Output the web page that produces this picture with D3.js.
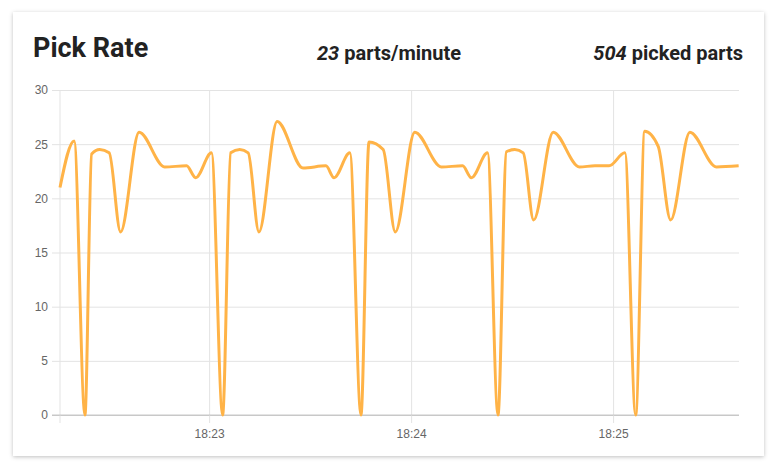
<!DOCTYPE html>
<html><head><meta charset="utf-8">
<script src="https://cdn.jsdelivr.net/npm/d3@7"></script>
<style>
html,body{margin:0;padding:0;background:#fff;}
#card{position:absolute;left:13px;top:12px;width:751px;height:444px;background:#fff;box-shadow:0 1px 4px rgba(0,0,0,0.25);}
svg{position:absolute;left:0;top:0;}
</style></head><body>
<div id="card"></div>
<svg id="chart" width="775" height="468"></svg>
<script>
// seconds after 18:22:00
const times = [15.7,19.9,23.1,25.1,27.5,30.3,33.7,39.2,46.8,53.3,56.0,60.7,64.0,66.4,69.1,71.6,74.8,80.2,87.9,94.7,97.1,101.8,105.1,107.5,111.7,115.3,121.1,129.0,135.3,137.9,142.7,145.8,148.3,150.8,153.3,156.4,162.2,170.0,174.6,178.8,183.5,186.7,189.4,193.4,197.1,202.8,210.7,217.3];
const rates = [21.0,25.3,0,24.1,24.5,24.2,16.9,26.1,22.9,23.0,21.9,24.2,0,24.2,24.5,24.2,16.9,27.1,22.8,23.0,21.9,24.2,0,25.2,24.5,16.9,26.1,22.9,23.0,21.9,24.2,0,24.3,24.5,24.2,18.0,26.1,22.9,23.0,23.0,24.2,0,26.2,24.8,18.0,26.1,22.9,23.0];
const yTicks = [0,5,10,15,20,25,30];
const xTickLabels = ["18:23","18:24","18:25"];
const title = "Pick Rate";
const rateValue = "23", rateUnit = " parts/minute";
const countValue = "504", countUnit = " picked parts";

const base = new Date(2020,0,1,18,22,0);
const toDate = s => new Date(base.getTime() + s*1000);
const data = times.map((t,i)=>({t:toDate(t), v:rates[i]}));

const svg = d3.select("#chart");
const L=60, R=739, T=90, B=415;
const x = d3.scaleTime().domain([toDate(15.7), toDate(217.4)]).range([L,R]);
const y = d3.scaleLinear().domain([0,30]).range([B,T]);
const font = "Roboto,'Liberation Sans',sans-serif";

// title / header
svg.append("text").attr("x",33).attr("y",57).attr("font-family",font).attr("font-weight","bold").attr("font-size",27).attr("fill","#222").text(title);
const h1 = svg.append("text").attr("x",389).attr("y",60).attr("text-anchor","middle").attr("font-family",font).attr("font-weight","bold").attr("font-size",20).attr("fill","#222");
h1.append("tspan").attr("font-style","italic").text(rateValue);
h1.append("tspan").text(rateUnit);
const h2 = svg.append("text").attr("x",743).attr("y",60).attr("text-anchor","end").attr("font-family",font).attr("font-weight","bold").attr("font-size",20).attr("fill","#222");
h2.append("tspan").attr("font-style","italic").text(countValue);
h2.append("tspan").text(countUnit);

// y grid
const yAxis = d3.axisLeft(y).tickValues(yTicks).tickSize(0).tickPadding(5);
const gy = svg.append("g").attr("transform",`translate(${L-8},0)`).call(yAxis);
gy.select(".domain").remove();
gy.selectAll(".tick line").attr("x1",0).attr("x2",R-L+8).attr("stroke",d=>d===0?"#c8c8c8":"#e3e3e3");
gy.selectAll(".tick text").attr("x",-4).attr("font-family","'Liberation Sans',Arial,sans-serif").attr("font-size",12).attr("fill","#666");

// x grid
const xTickDates = xTickLabels.map(s=>{const [h,m]=s.split(":").map(Number);return new Date(2020,0,1,h,m,0);});
const xAxis = d3.axisBottom(x).tickValues(xTickDates).tickFormat((d,i)=>xTickLabels[i]).tickSize(0).tickPadding(14);
const gx = svg.append("g").attr("transform",`translate(0,${B})`).call(xAxis);
gx.select(".domain").remove();
gx.selectAll(".tick line").attr("y1",8).attr("y2",-(B-T)).attr("stroke","#e3e3e3");
gx.selectAll(".tick text").attr("font-family","'Liberation Sans',Arial,sans-serif").attr("font-size",12).attr("fill","#666");
svg.append("line").attr("x1",L).attr("x2",L).attr("y1",T).attr("y2",B+8).attr("stroke","#e3e3e3");
svg.append("line").attr("x1",L-8).attr("x2",R).attr("y1",B).attr("y2",B).attr("stroke","#c8c8c8");

// line
const line = d3.line().x(d=>x(d.t)).y(d=>y(d.v)).curve(d3.curveMonotoneX);
svg.append("path").datum(data).attr("d",line).attr("fill","none").attr("stroke","#ffb347").attr("stroke-width",3).attr("stroke-linejoin","round");
</script>
</body></html>
